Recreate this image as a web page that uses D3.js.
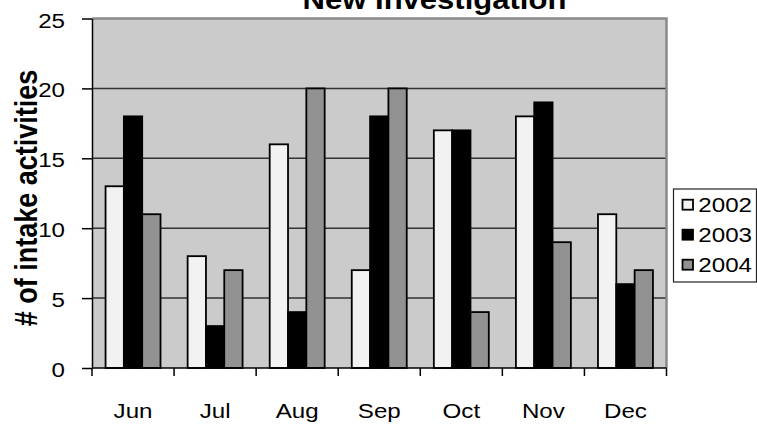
<!DOCTYPE html>
<html><head><meta charset="utf-8">
<script src="https://cdn.jsdelivr.net/npm/d3@7"></script>
<style>
body{margin:0;background:#fff;}
svg{display:block;font-family:"Liberation Sans",Arial,sans-serif;}
</style>
</head><body>
<svg width="757" height="425"></svg>
<script>
// Monthly intake activity counts per year
const months = ["Jun","Jul","Aug","Sep","Oct","Nov","Dec"];
const years = ["2002","2003","2004"];
const values2002 = [13,8,16,7,17,18,11];
const values2003 = [18,3,4,18,17,19,6];
const values2004 = [11,7,20,20,4,9,7];
const yTicks = [0,5,10,15,20,25];
const seriesColors = ["#f2f2f2","#000000","#929292"];
const titleText = "New Investigation";
const yTitle = "# of intake activities";

const series = [values2002, values2003, values2004];

const plot = {left:92, right:666.5, top:18.5, bottom:368};
const sx = 1.15; // horizontal text stretch

const svg = d3.select("svg");

const x = d3.scaleBand().domain(months).range([plot.left, plot.right]).paddingInner(0).paddingOuter(0);
const inner = d3.scaleBand().domain(years).range([0, x.bandwidth()]).paddingInner(0).paddingOuter(0.74);
const y = d3.scaleLinear().domain([0,25]).range([plot.bottom, plot.top]);

// plot background
svg.append("rect")
  .attr("x", plot.left).attr("y", y(25))
  .attr("width", plot.right - plot.left).attr("height", y(0) - y(25))
  .attr("fill", "#cbcbcb");

// gridlines
svg.append("g").selectAll("line")
  .data(yTicks.filter(v => v > 0 && v < 25))
  .join("line")
  .attr("x1", plot.left).attr("x2", plot.right)
  .attr("y1", d => y(d)).attr("y2", d => y(d))
  .attr("stroke", "#333").attr("stroke-width", 1.5);

// plot border (top and right)
svg.append("path")
  .attr("d", `M${plot.left},${y(25)}H${plot.right}V${y(0)}`)
  .attr("fill", "none").attr("stroke", "#8a8a8a").attr("stroke-width", 2.5);

// bars
years.forEach((yr, si) => {
  svg.append("g").selectAll("rect")
    .data(series[si].map((v, i) => ({m: months[i], v})))
    .join("rect")
    .attr("x", d => x(d.m) + inner(yr))
    .attr("y", d => y(d.v))
    .attr("width", inner.bandwidth())
    .attr("height", d => y(0) - y(d.v))
    .attr("fill", seriesColors[si])
    .attr("stroke", "#000").attr("stroke-width", 1.8);
});

// y axis
const yAxis = svg.append("g")
  .attr("transform", `translate(${plot.left},0)`)
  .call(d3.axisLeft(y).tickValues(yTicks).tickSize(10).tickSizeOuter(0).tickFormat(d3.format("d")));
yAxis.select(".domain").attr("stroke", "#000").attr("stroke-width", 1.5);
yAxis.selectAll(".tick line").attr("stroke", "#000").attr("stroke-width", 1.5);
yAxis.selectAll(".tick text")
  .attr("x", null).attr("dy", null)
  .attr("transform", `translate(-27,8.5) scale(${sx},1)`)
  .attr("font-size", 21).attr("font-family", "Liberation Sans, Arial, sans-serif")
  .attr("fill", "#000").attr("text-anchor", "end");

// x axis line and category boundary ticks
svg.append("line")
  .attr("x1", plot.left).attr("x2", plot.right)
  .attr("y1", y(0)).attr("y2", y(0))
  .attr("stroke", "#000").attr("stroke-width", 1.5);
const bounds = months.map(m => x(m)).concat([x(months[months.length-1]) + x.step()]);
svg.append("g").selectAll("line")
  .data(bounds).join("line")
  .attr("x1", d => d).attr("x2", d => d)
  .attr("y1", y(0)).attr("y2", y(0) + 8)
  .attr("stroke", "#000").attr("stroke-width", 1.5);

// x labels
const xAxis = svg.append("g")
  .attr("transform", `translate(0,${plot.bottom})`)
  .call(d3.axisBottom(x).tickSize(0));
xAxis.select(".domain").remove();
xAxis.selectAll(".tick text")
  .attr("y", null).attr("dy", null)
  .attr("transform", `translate(0,50) scale(${sx},1)`)
  .attr("font-size", 21).attr("font-family", "Liberation Sans, Arial, sans-serif")
  .attr("fill", "#000");

// title
svg.append("text")
  .attr("transform", `translate(434.5,8.5) scale(${sx},1)`)
  .attr("text-anchor", "middle")
  .attr("font-size", 27).attr("font-weight", "bold")
  .text(titleText);

// y axis title
svg.append("text")
  .attr("transform", `translate(37,198) scale(${sx},1) rotate(-90)`)
  .attr("text-anchor", "middle")
  .attr("font-size", 27).attr("font-weight", "bold")
  .text(yTitle);

// legend
const legend = svg.append("g");
legend.append("rect")
  .attr("x", 673.5).attr("y", 189)
  .attr("width", 83).attr("height", 93)
  .attr("fill", "#fff").attr("stroke", "#222").attr("stroke-width", 1.2);
years.forEach((yr, i) => {
  const base = 211.7 + i * 30;
  legend.append("rect")
    .attr("x", 682.5).attr("y", base - 12)
    .attr("width", 10.5).attr("height", 10)
    .attr("fill", seriesColors[i])
    .attr("stroke", "#000").attr("stroke-width", 1.8);
  legend.append("text")
    .attr("transform", `translate(698.3,${base}) scale(${sx},1)`)
    .attr("font-size", 21)
    .text(yr);
});
</script>
</body></html>
